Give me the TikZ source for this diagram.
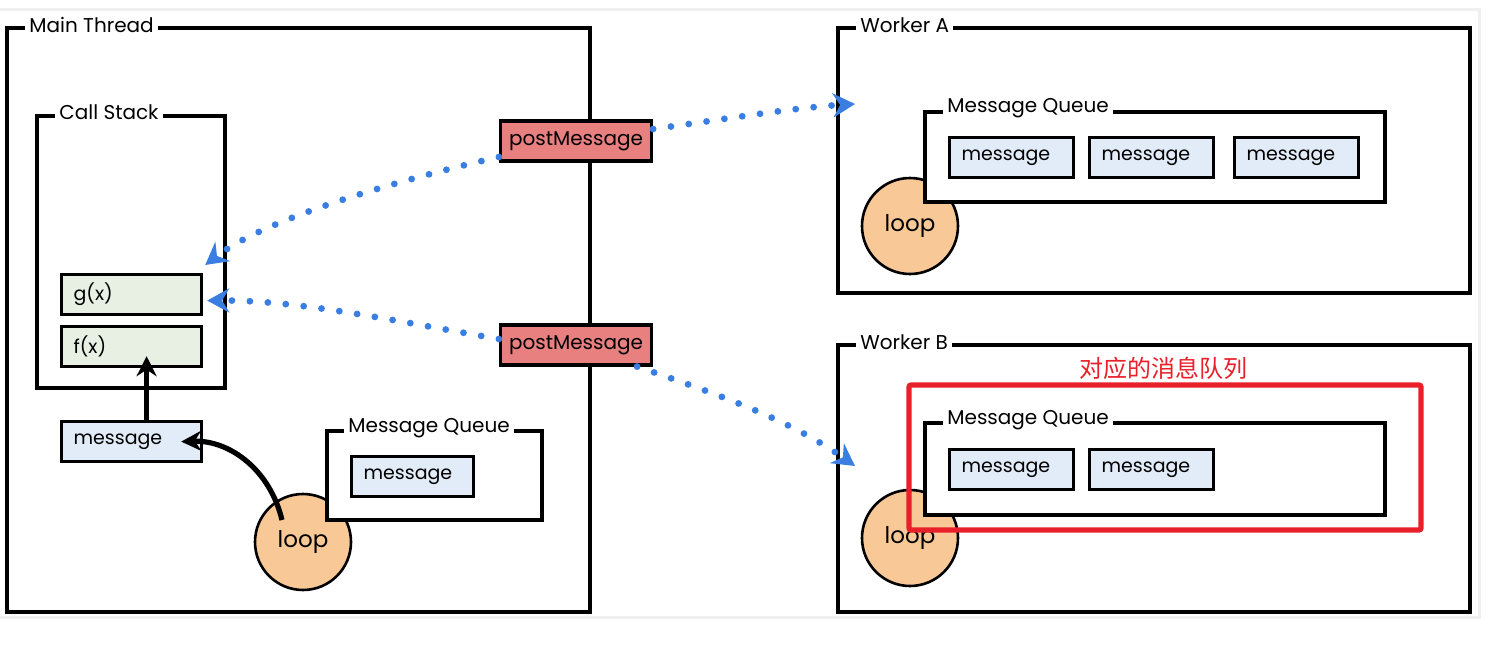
\documentclass[tikz,border=0pt]{standalone}
\usepackage{fontspec}
\setmainfont{Poppins}
\newfontfamily\cjk{Noto Sans CJK SC}
\usetikzlibrary{arrows.meta}
\definecolor{msgblue}{RGB}{226,236,248}
\definecolor{fngreen}{RGB}{232,240,228}
\definecolor{postred}{RGB}{232,128,128}
\definecolor{looporange}{RGB}{248,200,150}
\definecolor{dotblue}{RGB}{58,126,226}
\definecolor{markred}{RGB}{232,32,42}

\begin{document}
\begin{tikzpicture}[x=0.5pt,y=-0.5pt,
  frame/.style={line width=1.7pt},
  title/.style={fill=white,inner sep=2pt,anchor=west,font=\fontsize{10}{12}\selectfont},
  box/.style={draw,line width=1.6pt,anchor=north west,minimum height=20pt,inner xsep=6pt,text width=#1,align=left,font=\fontsize{9.5}{11}\selectfont},
  msg/.style={box=#1,fill=msgblue},
  fn/.style={box=58pt,fill=fngreen},
  post/.style={draw,line width=1.6pt,fill=postred,minimum width=75.5pt,minimum height=20pt,inner sep=0pt,font=\fontsize{10}{12}\selectfont},
  loopnode/.style={circle,draw,line width=1.3pt,fill=looporange,minimum size=48pt,inner sep=0pt,font=\fontsize{11.5}{13}\selectfont},
  push/.style={line width=2.6pt,-{Stealth[length=10pt,width=10pt]}},
  dots/.style={dotblue,line width=3.4pt,line cap=round,dash pattern=on 0pt off 9pt,-{Stealth[length=11pt,width=12pt]}}
]
\useasboundingbox (0,0) rectangle (1511,653);
\fill[white] (0,0) rectangle (1511,653);
\draw[black!6,line width=1.5pt] (-2,9) rectangle (1479,617);

% main thread
\draw[frame] (7,28) rectangle (590,612);
\node[title] (tMain) at (25,25) {Main Thread};

% call stack
\draw[frame] (37,116) rectangle (225,388);
\node[title] (tStack) at (55,112) {Call Stack};
\node[fn] (gx) at (60,273) {g(x)};
\node[fn] (fx) at (60,325) {f(x)};
\node[msg=58pt] (msgM) at (60,420) {message};

% event loop and queue of the main thread
\node[loopnode] (loopM) at (303,542) {loop};
\draw[frame,fill=white] (327,431) rectangle (542,520);
\node[title] (tQueueM) at (344,428) {Message Queue};
\node[msg=49pt] (qM) at (350,455) {message};

\draw[push] ([xshift=7.5pt]msgM.north) -- ([xshift=7.5pt,yshift=6pt]fx.south);
\draw[push] ([shift={(-21,-22)}]loopM.center) .. controls (270,470) and (230,440) .. ([xshift=-11pt]msgM.east);

% postMessage
\node[post] (pmA) at (576,141) {postMessage};
\node[post] (pmB) at (576,345) {postMessage};

% worker A
\draw[frame] (838,28) rectangle (1470,293);
\node[title] (tA) at (856,25) {Worker A};
\node[loopnode] (loopA) at (910,226) {loop};
\draw[frame,fill=white] (925,112) rectangle (1385,202);
\node[title] (tQueueA) at (943,108) {Message Queue};
\node[msg=50pt] (a1) at (948,136) {message};
\node[msg=50pt] (a2) at (1088,136) {message};
\node[msg=50pt] (a3) at (1233,136) {message};

% worker B
\draw[frame] (838,345) rectangle (1470,612);
\node[title] (tB) at (856,342) {Worker B};
\node[loopnode] (loopB) at (910,538) {loop};
\draw[frame,fill=white] (925,423) rectangle (1385,515);
\node[title] (tQueueB) at (943,420) {Message Queue};
\node[msg=50pt] (b1) at (948,448) {message};
\node[msg=50pt] (b2) at (1088,448) {message};

% red mark
\draw[markred,line width=2.6pt,rounded corners=1pt] (909,385) rectangle (1421,530);
\node[text=markred,font=\cjk\fontsize{12}{14}\selectfont] (note) at (1163,368) {对应的消息队列};

% messages between threads
\coordinate (inA) at (855,104);
\coordinate (inB) at (855,466);
\draw[dots] ([yshift=-8pt]pmA.west) .. controls (420,175) and (270,215) .. ([xshift=1pt,yshift=4pt]gx.north east);
\draw[dots] ([yshift=3pt]pmB.west) .. controls (400,322) and (300,300) .. ([xshift=2pt,yshift=-3pt]gx.east);
\draw[dots] ([yshift=6pt]pmA.east) .. controls (720,120) and (790,108) .. (inA);
\draw[dots] ([xshift=-8pt]pmB.south east) .. controls (720,395) and (790,420) .. (inB);
\end{tikzpicture}
\end{document}
